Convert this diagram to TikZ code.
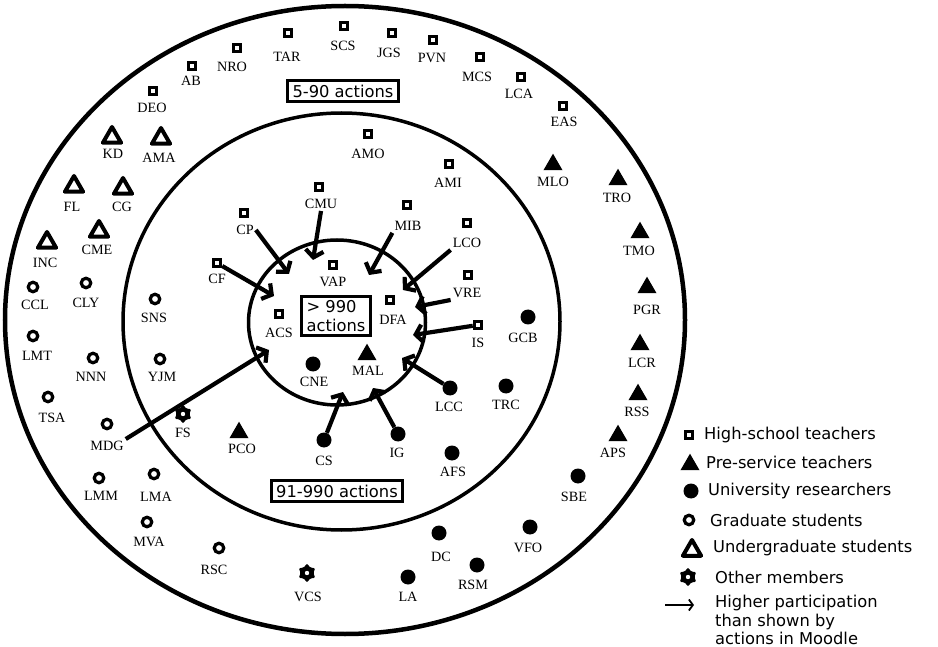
\documentclass[tikz,border=0pt]{standalone}
\usepackage{fontspec}
\setmainfont{Liberation Serif}
\newfontfamily\legendfont{DejaVu Sans}
\usetikzlibrary{positioning}
\usetikzlibrary{shapes.geometric}
\usetikzlibrary{arrows.meta}
\tikzset{hs node/.style={draw, line width=3pt, minimum size=7.5pt, inner sep=0pt},}
\tikzset{ps node/.style={regular polygon, regular polygon sides=3, fill, minimum size=22pt, inner sep=0pt, yshift=-2.7pt},}
\tikzset{ur node/.style={circle, fill, minimum size=15pt, inner sep=0pt},}
\tikzset{gs node/.style={circle, draw, line width=3.2pt, minimum size=9.5pt, inner sep=0pt},}
\tikzset{ug node/.style={regular polygon, regular polygon sides=3, draw, line width=4pt, line join=round, minimum size=21pt, inner sep=0pt, yshift=-2.5pt},}
\tikzset{om node/.style={star, star points=6, star point ratio=1.5, fill, rounded corners=1.2pt, minimum size=19pt, inner sep=0pt,
  path picture={\fill[white] (path picture bounding box.center) circle (2.2pt);}},}
\tikzset{lbl/.style={inner sep=2pt},}
\tikzset{range box/.style={draw, line width=3pt, font=\legendfont\fontsize{16.3}{19}\selectfont, inner xsep=5pt, inner ysep=4pt},}
\tikzset{legend text/.style={anchor=west, inner sep=0pt, font=\legendfont\fontsize{16.3}{18.5}\selectfont},}
\tikzset{more/.style={line width=4.2pt, -{Straight Barb[length=7pt,width=18pt]}},}

\begin{document}
\begin{tikzpicture}[x=1pt, y=-1pt, font=\fontsize{14.2}{16}\selectfont]
  \useasboundingbox (0,0) rectangle (938,647);

  % rings
  \draw[line width=4.5pt] (345,320) ellipse [x radius=340pt, y radius=314pt];
  \draw[line width=3.5pt] (341.5,321.5) ellipse [x radius=218.5pt, y radius=208.5pt];
  \draw[line width=3.5pt] (337,322.5) ellipse [x radius=88.5pt, y radius=82.5pt];

  \node[range box] (r-low) at (343,91) {5-90 actions};
  \node[range box] (r-mid) at (337,491) {91-990 actions};
  \node[range box, align=left] (r-high) at (336,316) {> 990\\actions};

  % high-school teachers
  \node[hs node] (AB) at (192,66) {};   \node[lbl] (AB-l) at (191,81) {AB};
  \node[hs node] (NRO) at (237,48) {};  \node[lbl] (NRO-l) at (232,67) {NRO};
  \node[hs node] (TAR) at (288,33) {};  \node[lbl] (TAR-l) at (287,57) {TAR};
  \node[hs node] (SCS) at (344,26) {};  \node[lbl] (SCS-l) at (343,46) {SCS};
  \node[hs node] (JGS) at (392,33) {};  \node[lbl] (JGS-l) at (389,53) {JGS};
  \node[hs node] (PVN) at (433,40) {};  \node[lbl] (PVN-l) at (432,58) {PVN};
  \node[hs node] (MCS) at (480,57) {};  \node[lbl] (MCS-l) at (477,77) {MCS};
  \node[hs node] (LCA) at (521,77) {};  \node[lbl] (LCA-l) at (519,94) {LCA};
  \node[hs node] (EAS) at (563,106) {}; \node[lbl] (EAS-l) at (564,122) {EAS};
  \node[hs node] (DEO) at (153,91) {};  \node[lbl] (DEO-l) at (152,108) {DEO};
  \node[hs node] (AMO) at (368,134) {}; \node[lbl] (AMO-l) at (368,154) {AMO};
  \node[hs node] (AMI) at (449,164) {}; \node[lbl] (AMI-l) at (448,183) {AMI};
  \node[hs node] (CMU) at (319,187) {}; \node[lbl] (CMU-l) at (321,204) {CMU};
  \node[hs node] (CP) at (244,213) {};  \node[lbl] (CP-l) at (245,230) {CP};
  \node[hs node] (MIB) at (407,205) {}; \node[lbl] (MIB-l) at (408,226) {MIB};
  \node[hs node] (LCO) at (467,223) {}; \node[lbl] (LCO-l) at (467,243) {LCO};
  \node[hs node] (VRE) at (468,275) {}; \node[lbl] (VRE-l) at (467,293) {VRE};
  \node[hs node] (CF) at (217,263) {};  \node[lbl] (CF-l) at (217,279) {CF};
  \node[hs node] (VAP) at (333,265) {}; \node[lbl] (VAP-l) at (333,282) {VAP};
  \node[hs node] (DFA) at (390,300) {}; \node[lbl] (DFA-l) at (393,320) {DFA};
  \node[hs node] (ACS) at (279,314) {}; \node[lbl] (ACS-l) at (279,333) {ACS};
  \node[hs node] (IS) at (478,325) {};  \node[lbl] (IS-l) at (478,343) {IS};

  % pre-service teachers
  \node[ps node] (MLO) at (553,162) {}; \node[lbl] (MLO-l) at (553,182) {MLO};
  \node[ps node] (TRO) at (618,177) {}; \node[lbl] (TRO-l) at (617,198) {TRO};
  \node[ps node] (TMO) at (640,230) {}; \node[lbl] (TMO-l) at (639,251) {TMO};
  \node[ps node] (PGR) at (647,285) {}; \node[lbl] (PGR-l) at (647,310) {PGR};
  \node[ps node] (LCR) at (640,342) {}; \node[lbl] (LCR-l) at (642,363) {LCR};
  \node[ps node] (RSS) at (638,392) {}; \node[lbl] (RSS-l) at (637,412) {RSS};
  \node[ps node] (APS) at (618,433) {}; \node[lbl] (APS-l) at (613,453) {APS};
  \node[ps node] (PCO) at (239,430) {}; \node[lbl] (PCO-l) at (242,449) {PCO};
  \node[ps node] (MAL) at (367,352) {}; \node[lbl] (MAL-l) at (368,371) {MAL};

  % university researchers
  \node[ur node] (GCB) at (528,317) {}; \node[lbl] (GCB-l) at (523,338) {GCB};
  \node[ur node] (LCC) at (450,388) {}; \node[lbl] (LCC-l) at (449,407) {LCC};
  \node[ur node] (TRC) at (506,386) {}; \node[lbl] (TRC-l) at (506,405) {TRC};
  \node[ur node] (AFS) at (452,453) {}; \node[lbl] (AFS-l) at (453,472) {AFS};
  \node[ur node] (SBE) at (578,476) {}; \node[lbl] (SBE-l) at (574,497) {SBE};
  \node[ur node] (VFO) at (530,527) {}; \node[lbl] (VFO-l) at (528,548) {VFO};
  \node[ur node] (DC) at (439,533) {};  \node[lbl] (DC-l) at (441,557) {DC};
  \node[ur node] (RSM) at (477,565) {}; \node[lbl] (RSM-l) at (473,585) {RSM};
  \node[ur node] (LA) at (408,577) {};  \node[lbl] (LA-l) at (408,597) {LA};
  \node[ur node] (CS) at (324,440) {};  \node[lbl] (CS-l) at (324,461) {CS};
  \node[ur node] (IG) at (398,434) {};  \node[lbl] (IG-l) at (397,453) {IG};
  \node[ur node] (CNE) at (313,364) {}; \node[lbl] (CNE-l) at (314,382) {CNE};

  % graduate students
  \node[gs node] (CCL) at (33,287) {};  \node[lbl] (CCL-l) at (35,305) {CCL};
  \node[gs node] (CLY) at (86,283) {};  \node[lbl] (CLY-l) at (86,303) {CLY};
  \node[gs node] (SNS) at (155,299) {}; \node[lbl] (SNS-l) at (154,318) {SNS};
  \node[gs node] (LMT) at (33,336) {};  \node[lbl] (LMT-l) at (37,356) {LMT};
  \node[gs node] (NNN) at (93,358) {};  \node[lbl] (NNN-l) at (91,377) {NNN};
  \node[gs node] (YJM) at (160,359) {}; \node[lbl] (YJM-l) at (162,377) {YJM};
  \node[gs node] (TSA) at (48,397) {};  \node[lbl] (TSA-l) at (52,418) {TSA};
  \node[gs node] (MDG) at (107,424) {}; \node[lbl] (MDG-l) at (107,446) {MDG};
  \node[gs node] (LMM) at (99,478) {};  \node[lbl] (LMM-l) at (101,496) {LMM};
  \node[gs node] (LMA) at (154,474) {}; \node[lbl] (LMA-l) at (156,497) {LMA};
  \node[gs node] (MVA) at (147,522) {}; \node[lbl] (MVA-l) at (149,542) {MVA};
  \node[gs node] (RSC) at (219,548) {}; \node[lbl] (RSC-l) at (214,570) {RSC};

  % undergraduate students
  \node[ug node] (KD) at (112,135) {};  \node[lbl] (KD-l) at (113,154) {KD};
  \node[ug node] (AMA) at (161,136) {}; \node[lbl] (AMA-l) at (159,158) {AMA};
  \node[ug node] (FL) at (74,184) {};   \node[lbl] (FL-l) at (72,207) {FL};
  \node[ug node] (CG) at (123,186) {};  \node[lbl] (CG-l) at (122,207) {CG};
  \node[ug node] (CME) at (99,229) {};  \node[lbl] (CME-l) at (97,250) {CME};
  \node[ug node] (INC) at (47,240) {};  \node[lbl] (INC-l) at (45,263) {INC};

  % other members
  \node[om node] (FS) at (183,414) {};  \node[lbl] (FS-l) at (183,433) {FS};
  \node[om node] (VCS) at (307,573) {}; \node[lbl] (VCS-l) at (308,597) {VCS};

  % arrow tips on the inner ring
  \coordinate (t-CF) at (274,296);
  \coordinate (t-CP) at (289,274);
  \coordinate (t-CMU) at (313,260);
  \coordinate (t-MIB) at (369,275);
  \coordinate (t-LCO) at (403,290);
  \coordinate (t-VRE) at (415,307);
  \coordinate (t-IS) at (413,335);
  \coordinate (t-LCC) at (402,358);
  \coordinate (t-IG) at (373,388);
  \coordinate (t-CS) at (343,392);
  \coordinate (t-MDG) at (269,350);

  \draw[more] (CF) -- (t-CF);
  \draw[more] (CP-l.east) -- (t-CP);
  \draw[more] (CMU-l.south) -- (t-CMU);
  \draw[more] (MIB-l.south west) -- (t-MIB);
  \draw[more] (LCO-l.south west) -- (t-LCO);
  \draw[more] (VRE-l.south west) -- (t-VRE);
  \draw[more] (IS) -- (t-IS);
  \draw[more] (LCC) -- (t-LCC);
  \draw[more] (IG) -- (t-IG);
  \draw[more] (CS) -- (t-CS);
  \draw[more] (MDG-l.north east) -- (t-MDG);

  % legend
  \node[hs node] (lg-hs) at (689,435) {};
  \node[legend text] (lg-hs-t) at (704,435) {High-school teachers};
  \node[ps node] (lg-ps) at (690,462) {};
  \node[legend text] (lg-ps-t) at (706,462) {Pre-service teachers};
  \node[ur node] (lg-ur) at (691,491) {};
  \node[legend text] (lg-ur-t) at (708,491) {University researchers};
  \node[gs node] (lg-gs) at (689,520) {};
  \node[legend text] (lg-gs-t) at (710,520) {Graduate students};
  \node[ug node] (lg-ug) at (692,548) {};
  \node[legend text] (lg-ug-t) at (713,548) {Undergraduate students};
  \node[om node] (lg-om) at (688,577) {};
  \node[legend text] (lg-om-t) at (715,577) {Other members};
  \coordinate (lg-a) at (665,605);
  \coordinate (lg-b) at (694,605);
  \draw[line width=1.8pt, -{Straight Barb[length=4pt,width=11pt]}] (lg-a) -- (lg-b);
  \node[legend text, align=left] (lg-ar-t) at (715,620) {Higher participation\\than shown by\\actions in Moodle};
\end{tikzpicture}
\end{document}
